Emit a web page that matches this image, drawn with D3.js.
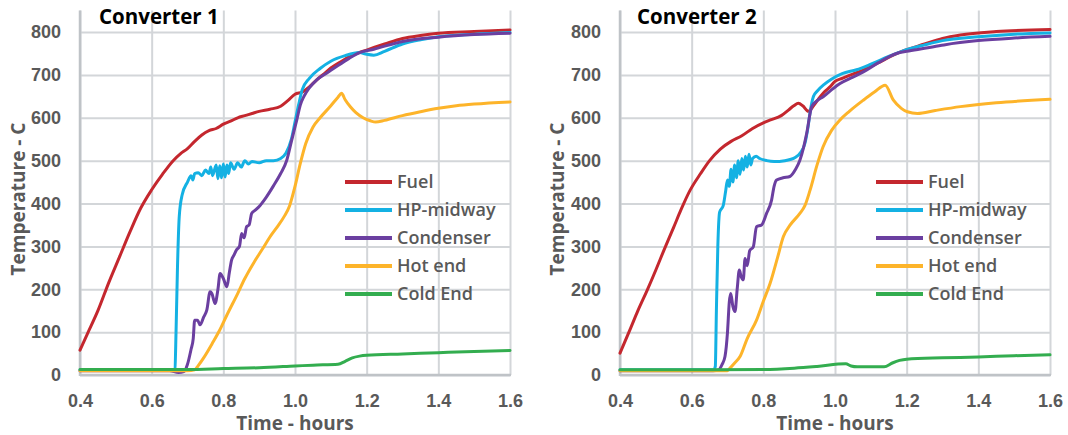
<!DOCTYPE html>
<html>
<head>
<meta charset="utf-8">
<script src="https://cdn.jsdelivr.net/npm/d3@7"></script>
<style>
  body { margin: 0; background: #fff; }
  svg { display: block; font-family: 'Open Sans', 'DejaVu Sans', sans-serif; }
  .tick text { fill: #595959; font-size: 18px; font-weight: 600; }
  .grid line { stroke: #d3d6d9; stroke-width: 2; }
  .grid path { display: none; }
  .axisTitle { fill: #595959; font-size: 19px; font-weight: 700; }
  .panelTitle { fill: #000; font-size: 20.5px; font-weight: 700; }
  .legend text { fill: #595959; font-size: 18px; font-weight: 600; }
</style>
</head>
<body>
<div id="chart"></div>
<script>
// series names, colours and tick values
let seriesNames = ['Fuel', 'HP-midway', 'Condenser', 'Hot end', 'Cold End'];
let seriesColors = ['#c4272e', '#14b1e3', '#6b3fa0', '#fdb42a', '#33ad4f'];
let xTicks = [0.4, 0.6, 0.8, 1.0, 1.2, 1.4, 1.6];
let yTicks = [0, 100, 200, 300, 400, 500, 600, 700, 800];

// Converter 1  [hours, temperature C]
let c1Fuel = [[0.40,58],[0.42,95],[0.45,150],[0.48,215],[0.51,275],[0.54,335],[0.57,390],[0.60,432],[0.63,468],[0.66,500],[0.68,516],[0.70,528],[0.72,545],[0.74,560],[0.76,570],[0.78,575],[0.80,585],[0.82,592],[0.84,600],[0.86,605],[0.88,610],[0.90,615],[0.93,620],[0.96,627],[0.98,640],[1.00,655],[1.02,660],[1.04,672],[1.06,688],[1.08,702],[1.10,716],[1.13,732],[1.16,746],[1.20,758],[1.25,772],[1.30,785],[1.35,792],[1.40,797],[1.50,801],[1.60,805]];
let c1Hp = [[0.40,12],[0.66,12],[0.665,15],[0.668,100],[0.672,250],[0.677,370],[0.685,420],[0.70,450],[0.71,465],[0.715,455],[0.72,470],[0.73,472],[0.74,465],[0.75,478],[0.76,470],[0.765,485],[0.77,465],[0.78,490],[0.785,458],[0.79,488],[0.795,460],[0.80,492],[0.805,462],[0.81,490],[0.815,470],[0.82,495],[0.83,480],[0.84,495],[0.85,485],[0.86,500],[0.87,492],[0.88,498],[0.90,495],[0.92,500],[0.94,500],[0.96,505],[0.975,518],[0.99,550],[1.00,590],[1.01,630],[1.02,665],[1.04,692],[1.07,715],[1.10,732],[1.14,745],[1.18,752],[1.20,748],[1.22,746],[1.25,755],[1.30,772],[1.35,782],[1.40,789],[1.50,795],[1.60,799]];
let c1Cond = [[0.40,10],[0.65,10],[0.675,6],[0.69,8],[0.70,25],[0.71,60],[0.716,85],[0.72,128],[0.728,128],[0.735,117],[0.745,135],[0.754,152],[0.763,194],[0.768,190],[0.777,167],[0.785,200],[0.791,237],[0.80,225],[0.81,206],[0.817,240],[0.823,268],[0.83,280],[0.837,292],[0.845,300],[0.851,330],[0.858,320],[0.865,346],[0.872,350],[0.879,377],[0.89,385],[0.902,395],[0.92,415],[0.939,440],[0.96,470],[0.977,501],[0.99,545],[1.005,595],[1.015,630],[1.025,650],[1.04,670],[1.06,688],[1.09,705],[1.12,722],[1.15,738],[1.18,752],[1.22,760],[1.30,778],[1.40,788],[1.50,794],[1.60,797]];
let c1Hot = [[0.40,10],[0.70,10],[0.72,12],[0.73,22],[0.745,40],[0.77,75],[0.79,105],[0.81,140],[0.84,190],[0.86,225],[0.885,262],[0.91,295],[0.93,322],[0.95,345],[0.97,370],[0.985,395],[1.00,440],[1.015,494],[1.03,540],[1.05,578],[1.07,600],[1.10,628],[1.12,648],[1.13,657],[1.14,642],[1.155,625],[1.17,612],[1.19,600],[1.21,593],[1.225,590],[1.25,594],[1.30,605],[1.35,614],[1.40,622],[1.45,628],[1.50,632],[1.60,637]];
let c1Cold = [[0.40,13],[0.60,13],[0.70,13],[0.80,15],[0.90,17],[1.00,21],[1.05,23],[1.12,25],[1.14,32],[1.16,40],[1.18,44],[1.20,46],[1.30,49],[1.40,52],[1.50,55],[1.60,57]];

// Converter 2
let c2Fuel = [[0.40,51],[0.43,110],[0.45,150],[0.476,198],[0.50,245],[0.523,292],[0.55,345],[0.57,385],[0.595,430],[0.625,470],[0.65,500],[0.68,527],[0.71,545],[0.74,558],[0.77,575],[0.80,588],[0.82,595],[0.85,605],[0.87,618],[0.885,628],[0.898,634],[0.91,628],[0.926,615],[0.94,628],[0.955,645],[0.97,660],[0.986,672],[1.00,685],[1.02,692],[1.05,702],[1.08,712],[1.12,728],[1.155,743],[1.19,756],[1.25,772],[1.30,785],[1.35,793],[1.45,801],[1.60,806]];
let c2Hp = [[0.40,12],[0.662,12],[0.666,20],[0.669,150],[0.673,300],[0.678,380],[0.688,395],[0.695,430],[0.70,455],[0.705,440],[0.71,480],[0.715,450],[0.72,490],[0.725,460],[0.73,500],[0.735,468],[0.74,505],[0.745,478],[0.75,510],[0.755,485],[0.76,515],[0.765,490],[0.77,505],[0.78,510],[0.79,505],[0.81,500],[0.83,498],[0.86,500],[0.89,508],[0.905,520],[0.916,540],[0.925,580],[0.93,610],[0.94,650],[0.95,662],[0.97,678],[0.99,690],[1.02,703],[1.06,712],[1.10,725],[1.15,743],[1.19,756],[1.25,770],[1.30,780],[1.40,789],[1.50,795],[1.60,798]];
let c2Cond = [[0.40,10],[0.66,10],[0.675,12],[0.685,25],[0.693,43],[0.70,100],[0.705,170],[0.709,190],[0.715,160],[0.721,148],[0.727,200],[0.733,245],[0.738,230],[0.744,222],[0.749,272],[0.755,255],[0.762,290],[0.772,299],[0.781,346],[0.795,350],[0.809,377],[0.823,408],[0.83,440],[0.837,455],[0.855,460],[0.874,463],[0.89,480],[0.902,501],[0.912,530],[0.921,564],[0.935,626],[0.95,640],[0.967,649],[0.99,665],[1.014,680],[1.05,695],[1.079,707],[1.12,728],[1.172,750],[1.20,755],[1.25,762],[1.304,770],[1.40,780],[1.50,786],[1.60,790]];
let c2Hot = [[0.40,10],[0.70,10],[0.707,16],[0.72,28],[0.735,43],[0.755,85],[0.781,128],[0.80,172],[0.819,214],[0.84,275],[0.856,323],[0.875,350],[0.902,377],[0.916,395],[0.93,430],[0.95,490],[0.967,533],[0.99,570],[1.014,595],[1.04,615],[1.079,641],[1.11,660],[1.14,676],[1.163,641],[1.185,622],[1.202,614],[1.23,610],[1.28,617],[1.35,626],[1.45,635],[1.60,643]];
let c2Cold = [[0.40,12],[0.60,12],[0.80,13],[0.886,16],[0.95,20],[1.03,26],[1.045,21],[1.062,19],[1.137,19],[1.16,28],[1.18,34],[1.20,37],[1.30,40],[1.40,42],[1.50,45],[1.60,47]];

let w = 1068;
let h = 435;

let svg = d3.select('#chart')
  .append('svg')
  .attr('width', w)
  .attr('height', h);

svg.append('rect').attr('width', w).attr('height', h).attr('fill', '#fff');

function drawPanel(title, left, right, titleX, yTitleX, legendX, data) {
  let xScale = d3.scaleLinear().domain([0.4, 1.6]).range([left, right]);
  let yScale = d3.scaleLinear().domain([0, 850]).range([375, 375 - 850 * 0.4287]);
  let top = yScale(850);
  let bottom = yScale(0);

  // horizontal grid + y labels
  svg.append('g')
    .attr('class', 'grid')
    .attr('transform', 'translate(' + left + ',0)')
    .call(d3.axisLeft(yScale).tickValues(yTicks).tickSize(-(right - left)).tickPadding(19).tickFormat(d3.format('d')));

  // vertical grid + x labels
  svg.append('g')
    .attr('class', 'grid')
    .attr('transform', 'translate(0,' + bottom + ')')
    .call(d3.axisBottom(xScale).tickValues(xTicks).tickSize(-(bottom - top)).tickPadding(19).tickFormat(d3.format('.1f')));

  // axis lines
  svg.append('line')
    .attr('x1', left).attr('x2', left).attr('y1', top).attr('y2', bottom + 1)
    .attr('stroke', '#bfc3c7').attr('stroke-width', 2.5);
  svg.append('line')
    .attr('x1', left).attr('x2', right + 1).attr('y1', bottom).attr('y2', bottom)
    .attr('stroke', '#bfc3c7').attr('stroke-width', 2.5);

  let line = d3.line()
    .curve(d3.curveMonotoneX)
    .x(d => xScale(d[0]))
    .y(d => yScale(d[1]));

  data.forEach((s, i) => {
    svg.append('path')
      .datum(s)
      .attr('d', line)
      .attr('fill', 'none')
      .attr('stroke', seriesColors[i])
      .attr('stroke-width', 3)
      .attr('stroke-linejoin', 'round')
      .attr('stroke-linecap', 'round');
  });

  svg.append('text')
    .attr('class', 'panelTitle')
    .attr('x', titleX)
    .attr('y', 24)
    .text(title);

  svg.append('text')
    .attr('class', 'axisTitle')
    .attr('text-anchor', 'middle')
    .attr('x', (left + right) / 2)
    .attr('y', 430)
    .text('Time - hours');

  svg.append('text')
    .attr('class', 'axisTitle')
    .attr('text-anchor', 'middle')
    .attr('transform', 'translate(' + (yTitleX + 7) + ',199) rotate(-90)')
    .text('Temperature - C');

  let legend = svg.append('g').attr('class', 'legend');
  seriesNames.forEach((name, i) => {
    let ly = 182 + i * 28;
    legend.append('line')
      .attr('x1', legendX).attr('x2', legendX + 47)
      .attr('y1', ly).attr('y2', ly)
      .attr('stroke', seriesColors[i])
      .attr('stroke-width', 4);
    legend.append('text')
      .attr('x', legendX + 52)
      .attr('y', ly)
      .attr('dy', '0.35em')
      .text(name);
  });
}

drawPanel('Converter 1', 80, 510, 99, 18, 345, [c1Fuel, c1Hp, c1Cond, c1Hot, c1Cold]);
drawPanel('Converter 2', 620, 1050, 637, 557, 876, [c2Fuel, c2Hp, c2Cond, c2Hot, c2Cold]);
</script>
</body>
</html>
